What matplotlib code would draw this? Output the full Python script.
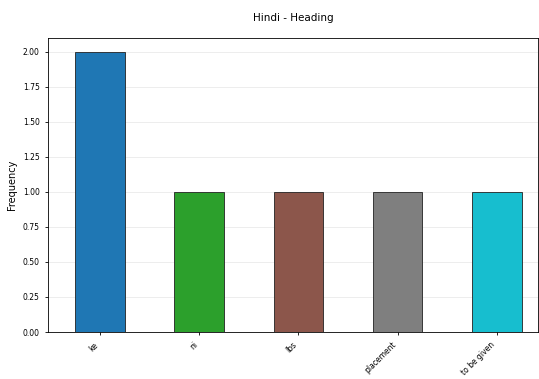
import matplotlib.pyplot as plt

categories = ["ke", "ni", "lbs", "placement", "to be given"]
counts = [2, 1, 1, 1, 1]
bar_colors = ["#1f77b4", "#2ca02c", "#8c564b", "#7f7f7f", "#17becf"]

fig = plt.figure(figsize=(5.39, 3.79), dpi=100)
ax = fig.add_axes([0.089, 0.124, 0.91, 0.776])

ax.bar(range(len(categories)), counts, width=0.5, color=bar_colors,
       edgecolor="#222222", linewidth=0.6)
ax.set_xticks(range(len(categories)))
ax.set_xticklabels(categories, rotation=45, ha="right", fontsize=5.5)
ax.set_xlim(-0.525, 4.42)
ax.set_ylim(0, 2.1)
ax.set_yticks([0, 0.25, 0.5, 0.75, 1.0, 1.25, 1.5, 1.75, 2.0])
ax.set_yticklabels([f"{v:.2f}" for v in ax.get_yticks()], fontsize=5.5)
ax.tick_params(length=2.5, width=0.6)
ax.set_ylabel("Frequency", fontsize=7)
ax.set_title("Hindi - Heading", fontsize=7.5, pad=12)
ax.yaxis.grid(True, linestyle="-", linewidth=0.5, color="#e6e6e6")
ax.set_axisbelow(True)
for s in ax.spines.values():
    s.set_linewidth(0.6)

fig.savefig("out.png", dpi=100)
